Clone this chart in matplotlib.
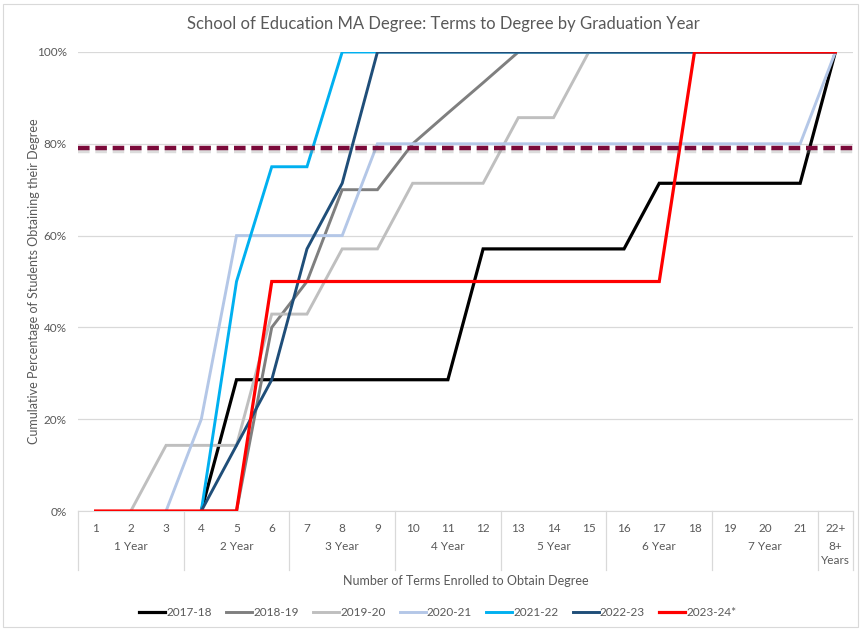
import numpy as np
import matplotlib
matplotlib.use('Agg')
import matplotlib.pyplot as plt
import matplotlib.patheffects as pe
from matplotlib.patches import Rectangle

nan = np.nan

# Data (cumulative % of students)
terms = [str(i) for i in range(1, 22)] + ['22+']
year_groups = ['1 Year', '2 Year', '3 Year', '4 Year', '5 Year', '6 Year', '7 Year', '8+\nYears']
group_sizes = [3, 3, 3, 3, 3, 3, 3, 1]

series_names = ['2017-18', '2018-19', '2019-20', '2020-21', '2021-22', '2022-23', '2023-24*']
y2017 = [nan, nan, nan, 0, 28.6, 28.6, 28.6, 28.6, 28.6, 28.6, 28.6, 57.1, 57.1, 57.1, 57.1, 57.1,
         71.4, 71.4, 71.4, 71.4, 71.4, 100]
y2018 = [nan, nan, nan, 0, 0, 40, 50, 70, 70, 80, 86.7, 93.3, 100, 100, 100, 100, 100, 100,
         100, 100, 100, 100]
y2019 = [nan, 0, 14.3, 14.3, 14.3, 42.9, 42.9, 57.1, 57.1, 71.4, 71.4, 71.4, 85.7, 85.7, 100, 100,
         100, 100, 100, 100, 100, 100]
y2020 = [nan, nan, 0, 20, 60, 60, 60, 60, 80, 80, 80, 80, 80, 80, 80, 80, 80, 80, 80, 80, 80, 100]
y2021 = [nan, nan, nan, 0, 50, 75, 75, 100, 100, 100, 100, 100, 100, 100, 100, 100, 100, 100,
         100, 100, 100, 100]
y2022 = [nan, nan, nan, 0, 14.3, 28.6, 57.1, 71.4, 100, 100, 100, 100, 100, 100, 100, 100, 100,
         100, 100, 100, 100, 100]
y2023 = [0, 0, 0, 0, 0, 50, 50, 50, 50, 50, 50, 50, 50, 50, 50, 50, 50, 100, 100, 100, 100, 100]
benchmark = 79

all_series = [y2017, y2018, y2019, y2020, y2021, y2022, y2023]
colors = ['#000000', '#7F7F7F', '#BFBFBF', '#B4C7E7', '#00B0F0', '#1F4E79', '#FF0000']
widths = [2.3, 2.1, 2.1, 2.1, 2.1, 2.1, 2.3]

plt.rcParams['font.family'] = ['Lato', 'DejaVu Sans']
txt = '#595959'

fig = plt.figure(figsize=(8.61, 6.30), dpi=100)
fig.patches.append(Rectangle((0.004, 0.004), 0.992, 0.990, transform=fig.transFigure,
                             fill=False, edgecolor='#D9D9D9', linewidth=0.8))
ax = fig.add_axes([78 / 861, 1 - 511 / 630, 775 / 861, 459 / 630])

x = np.arange(1, len(terms) + 1)
for ys, name, c, lw in zip(all_series, series_names, colors, widths):
    ax.plot(x, np.array(ys, dtype=float) / 100, color=c, lw=lw, label=name, zorder=3,
            solid_joinstyle='miter')

ax.axhline(benchmark / 100, color='#7B0A3A', lw=3.2, ls=(0, (2.6, 1.3)), zorder=4,
           path_effects=[pe.SimpleLineShadow(offset=(0, -2), shadow_color='#8C8C8C', alpha=0.3),
                         pe.Normal()])

ax.set_xlim(0.5, len(terms) + 0.5)
ax.set_ylim(0, 1)
ax.set_yticks(np.arange(0, 1.01, 0.2))
ax.set_yticklabels([f'{int(v * 100)}%' for v in np.arange(0, 1.01, 0.2)])
ax.yaxis.grid(True, color='#D9D9D9', lw=0.9)
ax.set_axisbelow(True)
for s in ['top', 'right', 'left']:
    ax.spines[s].set_visible(False)
ax.spines['bottom'].set_color('#D9D9D9')
ax.tick_params(axis='y', length=0, colors=txt, labelsize=8.5, pad=8)
ax.set_xticks(x)
ax.set_xticklabels(terms)
ax.tick_params(axis='x', length=0, colors=txt, labelsize=8.5, pad=9)

# Multi-level category axis: group labels and separators
trans = ax.get_xaxis_transform()
edges = np.concatenate([[0], np.cumsum(group_sizes)]) + 0.5
for e in edges:
    ax.plot([e, e], [0, -0.128], color='#D9D9D9', lw=0.9, transform=trans, clip_on=False)
for lab, a, b in zip(year_groups, edges[:-1], edges[1:]):
    ax.text((a + b) / 2, -0.066, lab, transform=trans, ha='center', va='top',
            color=txt, fontsize=8.5, linespacing=1.3)

ax.set_xlabel('Number of Terms Enrolled to Obtain Degree', color=txt, fontsize=9, labelpad=29)
ax.set_ylabel('Cumulative Percentage of Students Obtaining their Degree', color=txt, fontsize=9,
              labelpad=-2)
fig.suptitle('School of Education MA Degree: Terms to Degree by Graduation Year', x=443 / 861,
             y=1 - 24 / 630, va='center', color=txt, fontsize=12)

fig.legend(loc='center', bbox_to_anchor=(438 / 861, 1 - 613 / 630), ncol=7, frameon=False,
           fontsize=8.5, handlelength=2.2, handletextpad=0.1, columnspacing=1.2, labelcolor=txt)

fig.savefig('out.png', dpi=100)
